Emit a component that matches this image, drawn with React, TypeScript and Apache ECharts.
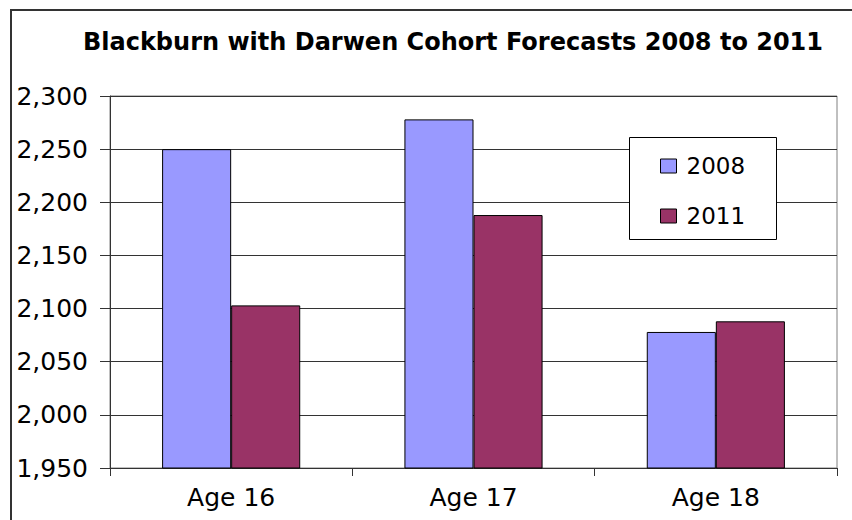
import React, { useEffect, useRef } from "react";
import * as echarts from "echarts";

const TITLE = "Blackburn with Darwen Cohort Forecasts 2008 to 2011";
const categories = ["Age 16", "Age 17", "Age 18"];
const seriesNames = ["2008", "2011"];
const values2008 = [2250, 2278, 2078];
const values2011 = [2103, 2188, 2088];
const colors = ["#9999FF", "#993366"];
const yMin = 1950;
const yMax = 2300;
const yStep = 50;

const FONT = "'DejaVu Sans', 'Liberation Sans', Arial, sans-serif";

export default function App() {
  const ref = useRef<HTMLDivElement>(null);
  useEffect(() => {
    if (!ref.current) return;
    const chart = echarts.init(ref.current, null, { renderer: "svg" });
    const fmt = (v: number) => String(v).replace(/\B(?=(\d{3})+(?!\d))/g, ",");
    chart.setOption({
      animation: false,
      backgroundColor: "#ffffff",
      textStyle: { fontFamily: FONT },
      grid: {
        left: 110,
        right: 15,
        top: 96,
        bottom: 52,
        outerBoundsMode: "none",
        show: true,
        borderColor: "#808080",
        borderWidth: 1,
        backgroundColor: "transparent",
      },
      xAxis: {
        type: "category",
        data: categories,
        boundaryGap: true,
        axisLine: { lineStyle: { color: "#333", width: 1 } },
        axisTick: { show: true, length: 8, lineStyle: { color: "#333" } },
        axisLabel: { color: "#000", fontSize: 25, fontFamily: FONT, margin: 17 },
        splitLine: { show: false },
      },
      yAxis: {
        type: "value",
        min: yMin,
        max: yMax,
        interval: yStep,
        axisLine: { show: true, lineStyle: { color: "#333", width: 1 } },
        axisTick: { show: true, length: 10, lineStyle: { color: "#333" } },
        axisLabel: { color: "#000", fontSize: 25, fontFamily: FONT, margin: 22, formatter: fmt },
        splitLine: { show: true, lineStyle: { color: "#333", width: 1 } },
      },
      legend: {
        orient: "vertical",
        left: 660,
        top: 154,
        padding: 0,
        itemGap: 26,
        itemWidth: 16,
        itemHeight: 14,
        icon: "rect",
        itemStyle: { borderColor: "#000", borderWidth: 1 },
        textStyle: { color: "#000", fontSize: 23, fontFamily: FONT, lineHeight: 24, padding: [0, 0, 0, 5] },
        data: seriesNames,
      },
      series: [
        {
          name: seriesNames[0],
          type: "bar",
          data: values2008,
          barGap: "0%",
          barCategoryGap: "43%",
          itemStyle: { color: colors[0], borderColor: "#000", borderWidth: 1 },
        },
        {
          name: seriesNames[1],
          type: "bar",
          data: values2011,
          barGap: "0%",
          barCategoryGap: "43%",
          itemStyle: { color: colors[1], borderColor: "#000", borderWidth: 1 },
        },
      ],
      graphic: [
        {
          type: "rect",
          shape: { x: 11, y: 10, width: 1000, height: 1000 },
          style: { fill: "none", stroke: "#333", lineWidth: 2 },
          silent: true,
          z: 0,
        },
        {
          type: "rect",
          shape: { x: 629.5, y: 137.5, width: 147, height: 102 },
          style: { fill: "#fff", stroke: "#000", lineWidth: 1 },
          silent: true,
          z: 1,
        },
        {
          type: "text",
          x: 453,
          y: 42,
          style: {
            text: TITLE,
            font: `bold 24px ${FONT}`,
            fill: "#000",
            textAlign: "center",
            textVerticalAlign: "middle",
          },
          z: 5,
        },
      ],
    });
    return () => chart.dispose();
  }, []);
  return (
    <div
      ref={ref}
      style={{ position: "fixed", left: 0, top: 0, width: 852, height: 520, background: "#fff" }}
    />
  );
}
